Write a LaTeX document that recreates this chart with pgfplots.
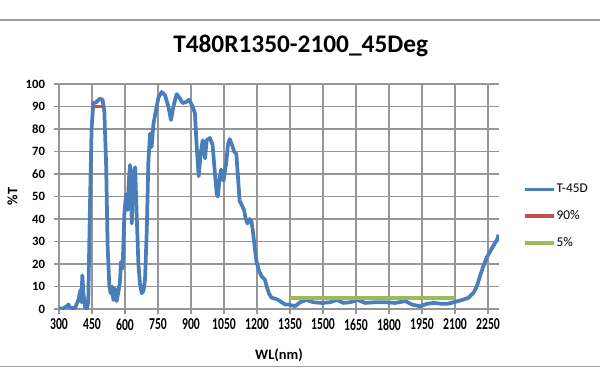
\documentclass[border=0pt]{standalone}
\usepackage{fontspec}
\setmainfont{Carlito}
\usepackage{pgfplots}
\pgfplotsset{compat=1.18}
\definecolor{cblue}{RGB}{74,126,187}
\definecolor{cred}{RGB}{192,80,77}
\definecolor{cgreen}{RGB}{155,187,89}
\definecolor{gridgray}{RGB}{150,150,150}
\definecolor{framegray}{RGB}{160,160,160}
\begin{document}
\begin{tikzpicture}
\path[use as bounding box] (0,0) rectangle (450pt,287.25pt);
\draw[framegray, line width=1pt] (0,272.25pt) -- (450pt,272.25pt);
\draw[framegray, line width=1pt] (0,12.4pt) -- (450pt,12.4pt);
\node[font=\bfseries\fontsize{19}{22}\selectfont] at (225.5pt,252.75pt) {T480R1350-2100\_45Deg};
\begin{axis}[
  at={(44.25pt,55.5pt)}, anchor=south west,
  scale only axis, width=330pt, height=168.75pt,
  xmin=300, xmax=2300, ymin=0, ymax=100,
  xtick={300,450,...,2250}, ytick={0,10,...,100},
  grid=major, grid style={gridgray, line width=0.8pt},
  axis x line=bottom, axis y line=left,
  axis line style={gridgray, line width=0.8pt, -},
  tick align=outside, major tick length=4pt,
  tick style={gridgray, line width=0.8pt},
  yticklabel style={font=\bfseries\fontsize{9.5}{10}\selectfont, xshift=-3pt},
  xticklabel style={font=\bfseries\fontsize{12.5}{13}\selectfont},
  xticklabel={\scalebox{0.7}[1]{\pgfmathprintnumber[assume math mode=true,1000 sep={}]{\tick}}},
  /pgf/number format/assume math mode=true,
  /pgf/number format/1000 sep={},
  xlabel={WL(nm)}, ylabel={\%T},
  label style={font=\bfseries\fontsize{10.8}{12}\selectfont},
  xlabel style={at={(axis description cs:0.5,-0.207)}, anchor=center},
  ylabel style={at={(axis description cs:-0.106,0.5)}, anchor=center},
  legend style={at={(1.0539,0.412)}, anchor=west, draw=none, fill=none,
    font=\fontsize{10}{11}\selectfont, inner sep=0pt, row sep=10pt,
    nodes={inner sep=0.6pt, text height=7pt, text depth=2pt}},
  legend cell align=left,
  legend image code/.code={\draw[#1] (0pt,0pt) -- (21.75pt,0pt);},
]
\addplot[cblue, line width=2.8pt, line join=round] coordinates {
(300,0.2) (320,0.3) (335,1.2) (343,2) (350,0.5) (373,0.4) (388,4) (398,8.5) (402,3) (406,15) (411,7) (418,1) (426,0) (433,3)
(440,42) (448,80) (456,91.5) (471,92) (486,93.5) (498,93) (506,88) (514,65) (521,28) (529,10)
(535,7) (542,10) (547,4) (555,9) (562,3.5) (569,7) (577,12) (582,21) (589,18) (597,42) (605,51)
(612,44) (618,58) (623,64) (628,48) (631,38) (638,60) (646,63) (653,42) (661,20) (668,11) (676,7)
(684,8) (691,13) (699,35) (706,65) (714,78) (721,72) (729,82) (740,88) (752,94) (767,96.5)
(782,95) (797,90) (809,84) (820,90) (835,95.5) (847,94) (862,91.5) (877,92) (892,93) (907,90)
(918,87) (926,72) (935,59) (944,69) (953,75) (964,67) (971,75) (986,76) (998,73) (1009,60)
(1017,51) (1022,50) (1030,58) (1037,62) (1048,57) (1060,65) (1068,73) (1076,75.5) (1086,73)
(1096,70) (1106,69) (1114,58) (1121,48) (1132,46) (1141,44) (1149,40) (1157,38) (1167,40)
(1175,39) (1182,34) (1190,27) (1198,21) (1209,17) (1221,14.5) (1236,13) (1244,10) (1254,7)
(1266,5) (1285,4.5) (1297,4) (1312,3) (1328,2) (1343,2) (1358,1.6) (1374,1.3) (1396,3)
(1426,4) (1456,3) (1494,2.7) (1532,3) (1563,4) (1593,2.7) (1623,3) (1658,4) (1692,2.7)
(1737,3) (1783,3) (1828,2.7) (1874,3.5) (1904,2) (1942,1.2) (1972,2.3) (2003,2.7) (2041,2.3)
(2071,2.4) (2101,3.2) (2132,4) (2162,5) (2185,7.3) (2200,10.3) (2215,15) (2230,19.4)
(2245,23) (2268,27) (2291,30.8) (2298,33)
};
\addlegendentry{T-45D}
\addplot[cred, line width=2.8pt] coordinates {(455,90) (505,90)};
\addlegendentry{90\%}
\addplot[cgreen, line width=2.8pt] coordinates {(1350,5) (2100,5)};
\addlegendentry{5\%}
\end{axis}
\end{tikzpicture}
\end{document}
